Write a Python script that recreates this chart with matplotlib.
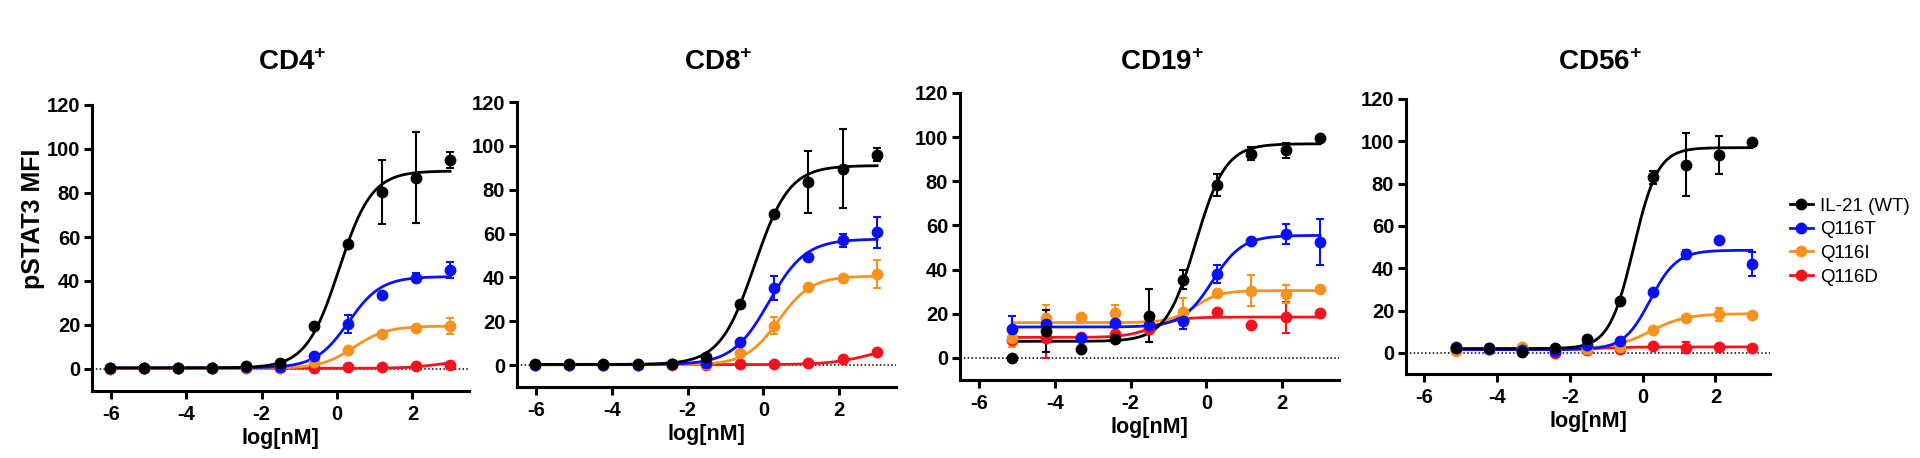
import numpy as np
import matplotlib.pyplot as plt
from matplotlib.lines import Line2D

plt.rcParams['font.family'] = ['Liberation Sans', 'DejaVu Sans']
plt.rcParams['font.weight'] = 'bold'
plt.rcParams['axes.unicode_minus'] = False
plt.rcParams['mathtext.fontset'] = 'custom'
plt.rcParams['mathtext.rm'] = 'Liberation Sans'
plt.rcParams['mathtext.bf'] = 'Liberation Sans:bold'

# dose points, log10 of nM (8-fold dilutions)
log_conc = [-6.03, -5.13, -4.22, -3.32, -2.42, -1.52, -0.61, 0.29, 1.19, 2.10, 3.00]

labels = ['IL-21 (WT)', 'Q116T', 'Q116I', 'Q116D']
colors = ['#000000', '#0a12f5', '#f7921e', '#f5121c']

# CD4+ (11 doses)
cd4_wt = [0.5, 0.5, 0.5, 0.6, 1.4, 2.9, 19.5, 57.0, 80.5, 87.0, 95.0]
cd4_wt_err = [0, 0, 0, 0, 0, 0, 0, 0, 14.5, 20.5, 3.5]
cd4_t = [0.3, 0.4, 0.3, 0.5, 0.8, 1.0, 6.0, 20.5, 33.5, 41.5, 45.0]
cd4_t_err = [0, 0, 0, 0, 0, 0, 0, 4.0, 0, 2.0, 3.5]
cd4_i = [0.2, 0.3, 0.4, 0.3, 0.5, 0.5, 3.0, 8.5, 16.0, 18.5, 19.5]
cd4_i_err = [0, 0, 0, 0, 0, 0, 0, 0, 0, 1.0, 3.5]
cd4_d = [0.2, 0.3, 0.3, 0.3, 0.3, 0.3, 0.5, 0.8, 1.0, 1.2, 2.0]
cd4_d_err = [0] * 11

# CD8+ (11 doses)
cd8_wt = [0.3, 0.3, 0.3, 0.3, 0.5, 3.5, 28.0, 69.0, 83.5, 89.5, 96.0]
cd8_wt_err = [0, 0, 0, 0, 0, 0, 0, 0, 14.0, 18.0, 3.0]
cd8_t = [0.2, 0.2, 0.2, 0.2, 0.3, 0.8, 10.5, 35.0, 49.5, 57.0, 60.5]
cd8_t_err = [0, 0, 0, 0, 0, 0, 0, 5.5, 0, 3.0, 7.0]
cd8_i = [0.1, 0.1, 0.1, 0.1, 0.2, 0.5, 5.5, 18.0, 35.5, 39.5, 41.5]
cd8_i_err = [0, 0, 0, 0, 0, 0, 0, 4.0, 0, 0, 6.5]
cd8_d = [0.0, 0.0, 0.0, 0.0, 0.0, 0.2, 0.3, 0.3, 0.9, 3.0, 5.8]
cd8_d_err = [0] * 11

# CD19+ (10 doses, lowest dose missing)
cd19_wt = [0.0, 12.0, 4.0, 8.5, 19.0, 35.5, 78.5, 92.5, 94.0, 99.5]
cd19_wt_err = [0, 9.5, 0, 0, 12.0, 4.5, 5.0, 3.0, 3.5, 0]
cd19_t = [13.0, 15.5, 9.0, 16.0, 15.0, 16.5, 38.0, 53.0, 56.0, 52.5]
cd19_t_err = [6.0, 6.0, 0, 0, 0, 3.5, 4.0, 0, 4.5, 10.5]
cd19_i = [9.0, 18.0, 18.5, 20.5, 17.0, 21.0, 29.5, 30.5, 29.0, 31.0]
cd19_i_err = [4.0, 6.0, 0, 3.5, 0, 6.0, 0, 7.0, 4.0, 0]
cd19_d = [8.0, 9.0, 9.5, 11.0, 13.0, 17.0, 21.0, 15.0, 18.5, 20.5]
cd19_d_err = [0, 9.0, 0, 0, 0, 0, 0, 0, 7.0, 0]

# CD56+ (10 doses, lowest dose missing)
cd56_wt = [2.5, 2.5, 0.5, 2.5, 6.5, 24.5, 83.0, 89.0, 93.5, 99.5]
cd56_wt_err = [0, 0, 0, 0, 0, 0, 3.0, 15.0, 9.0, 0]
cd56_t = [3.0, 2.0, 1.5, 1.0, 3.8, 5.5, 28.8, 46.5, 53.5, 42.0]
cd56_t_err = [0, 0, 0, 0, 0, 0, 0, 2.0, 0, 5.5]
cd56_i = [1.0, 2.5, 3.0, 1.5, 2.0, 3.0, 11.0, 16.5, 18.2, 18.0]
cd56_i_err = [0, 0, 0, 0, 0, 0, 0, 0, 3.0, 0]
cd56_d = [1.5, 2.0, 1.5, 0.0, 1.5, 1.8, 3.4, 2.5, 3.0, 2.5]
cd56_d_err = [0, 0, 0, 0, 0, 0, 0, 2.5, 0, 0]

# 4PL fit parameters: [bottom, top, logEC50, hill]
cd4_fit = [[0.5, 90.0, 0.05, 1.0], [0.5, 42.0, 0.30, 1.0],
           [0.3, 19.5, 0.45, 1.0], [0.3, 4.0, 2.70, 1.0]]
cd8_fit = [[0.3, 91.0, -0.23, 0.95], [0.2, 57.5, 0.15, 0.9],
           [0.1, 40.6, 0.40, 1.0], [0.2, 10.0, 2.90, 0.8]]
cd19_fit = [[7.5, 97.0, -0.28, 1.1], [14.0, 55.5, 0.16, 1.1],
            [16.0, 30.5, -0.30, 1.3], [9.3, 18.5, -1.40, 1.2]]
cd56_fit = [[2.0, 97.0, -0.25, 1.3], [1.5, 48.5, 0.21, 1.2],
            [2.0, 18.5, 0.22, 0.9], [1.8, 2.8, -1.00, 1.0]]

panels = [
    ('CD4', [cd4_wt, cd4_t, cd4_i, cd4_d], [cd4_wt_err, cd4_t_err, cd4_i_err, cd4_d_err], cd4_fit),
    ('CD8', [cd8_wt, cd8_t, cd8_i, cd8_d], [cd8_wt_err, cd8_t_err, cd8_i_err, cd8_d_err], cd8_fit),
    ('CD19', [cd19_wt, cd19_t, cd19_i, cd19_d], [cd19_wt_err, cd19_t_err, cd19_i_err, cd19_d_err], cd19_fit),
    ('CD56', [cd56_wt, cd56_t, cd56_i, cd56_d], [cd56_wt_err, cd56_t_err, cd56_i_err, cd56_d_err], cd56_fit),
]

W, H = 1920, 458
# axes boxes in pixels: left, right, top, bottom
boxes = [(92, 469, 105, 391), (517, 896, 102, 387),
         (960, 1339, 93, 380), (1406, 1770, 99, 374)]


def logistic(x, p):
    bottom, top, ec, hill = p
    return bottom + (top - bottom) / (1 + 10 ** ((ec - x) * hill))


fig = plt.figure(figsize=(W / 100, H / 100), dpi=100)

for (name, series, errs, fits), (l, r, t, b) in zip(panels, boxes):
    ax = fig.add_axes([l / W, 1 - b / H, (r - l) / W, (b - t) / H])
    x = np.array(log_conc[-len(series[0]):])
    xs = np.linspace(x[0], x[-1], 300)
    ax.axhline(0, color='black', lw=1.1, ls=(0, (1, 1.5)), zorder=1)
    # draw red first so black ends on top
    for k in [3, 2, 1, 0]:
        y = np.array(series[k])
        e = np.array(errs[k])
        ax.plot(xs, logistic(xs, fits[k]), color=colors[k], lw=2, zorder=2)
        m = e > 0
        if m.any():
            ax.errorbar(x[m], y[m], yerr=e[m], fmt='none', ecolor=colors[k],
                        elinewidth=1.5, capsize=3.2, capthick=1.5, zorder=3)
        ax.plot(x, y, 'o', color=colors[k], ms=7.5, zorder=4)
    ax.set_xlim(-6.5, 3.5)
    ax.set_ylim(-10, 120)
    ax.set_xticks([-6, -4, -2, 0, 2])
    ax.set_yticks([0, 20, 40, 60, 80, 100, 120])
    for s in ['top', 'right']:
        ax.spines[s].set_visible(False)
    for s in ['left', 'bottom']:
        ax.spines[s].set_linewidth(2.2)
    ax.tick_params(axis='both', width=2.2, length=6, labelsize=14.5)
    ax.tick_params(axis='x', pad=4)
    ax.tick_params(axis='y', pad=2.5)
    for lab in ax.get_xticklabels() + ax.get_yticklabels():
        lab.set_fontweight('bold')
    ax.set_xlabel('log[nM]', fontsize=15.5, fontweight='bold', labelpad=3)
    fig.text((l + r) / 2 / W + 12 / W, 1 - 70 / H, name + r'$^{\mathbf{+}}$',
             ha='center', va='baseline', fontsize=20, fontweight='bold')

fig.text(33 / W, 1 - 219 / H, 'pSTAT3 MFI', rotation=90, ha='center',
         va='center', fontsize=18, fontweight='bold')

handles = [Line2D([], [], color=c, marker='o', lw=2, ms=7.5) for c in colors]
fig.legend(handles, labels, loc='center left',
           bbox_to_anchor=(1790 / W, 1 - 241.5 / H), frameon=False,
           borderpad=0, borderaxespad=0, handlelength=1.2, handletextpad=0.4,
           labelspacing=0.35, prop={'size': 13.5, 'weight': 'normal'})

fig.savefig('out.png', dpi=100)
